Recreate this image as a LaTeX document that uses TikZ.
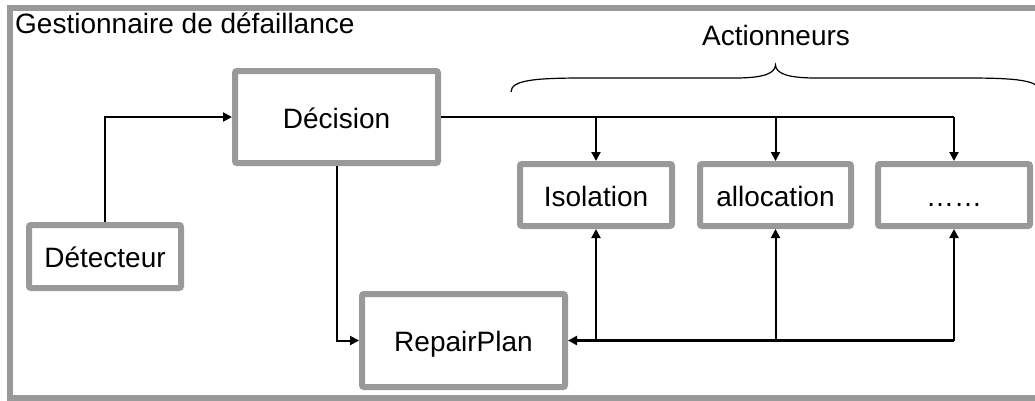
\documentclass[tikz,border=0pt]{standalone}
\usepackage{fontspec}
\setmainfont{Liberation Sans}
\usetikzlibrary{arrows.meta}
\definecolor{framegray}{RGB}{153,153,153}
\tikzset{
  box/.style={draw=framegray, line width=6pt, rounded corners=2pt, fill=white,
    inner sep=0pt, text height=22pt, text depth=0pt, font=\fontsize{28}{32}\selectfont},
  link/.style={draw=black, line width=2pt, -{Triangle[length=9pt,width=9pt]}},
  bus/.style={draw=black, line width=2.6pt},
  label/.style={inner sep=0pt, font=\fontsize{28}{32}\selectfont}
}
\begin{document}
\begin{tikzpicture}[x=1pt,y=-1pt]
  \useasboundingbox (0,0) rectangle (1035,400);
  \clip (0,0) rectangle (1035,400);

  % outer frame of the fault manager
  \draw[framegray, line width=6.5pt] (10,8) rectangle (1060,398.5);
  \node[label, anchor=base west] (title) at (15,33) {Gestionnaire de défaillance};

  % components
  \node[box, minimum width=203pt, minimum height=92pt] (dec) at (336.5,117) {Décision};
  \node[box, minimum width=152pt, minimum height=63pt] (det) at (105,256.5) {Détecteur};
  \node[box, minimum width=203pt, minimum height=93pt] (rp) at (463.5,340.5) {RepairPlan};
  \node[box, minimum width=152pt, minimum height=62pt] (iso) at (596,195) {Isolation};
  \node[box, minimum width=151pt, minimum height=62pt] (alloc) at (775.5,195) {allocation};
  \node[box, minimum width=152pt, minimum height=62pt] (more) at (954,195) {……};

  % actuator group brace and its label
  \draw[line width=1.2pt] (511,92) .. controls (511,80) and (535,78) .. (585,78)
    -- (735,78) .. controls (765,78) and (775,73) .. (775.5,65)
    .. controls (776,73) and (786,78) .. (816,78)
    -- (966,78) .. controls (1016,78) and (1040,80) .. (1040,92);
  \node[label, anchor=base] (act) at (776,45) {Actionneurs};

  % detector to decision
  \draw[link] (det.north) |- (dec.west);
  % decision to repair plan
  \draw[link] (dec.south) |- (rp.west);
  % decision to each actuator
  \draw[bus] (dec.east) -- (dec.east -| more.north);
  \draw[link] (dec.east -| iso.north) -- (iso.north);
  \draw[link] (dec.east -| alloc.north) -- (alloc.north);
  \draw[link] (dec.east -| more.north) -- (more.north);

  % feedback bus from actuators to repair plan
  \coordinate (jiso) at (rp.east -| iso.south);
  \coordinate (jalloc) at (rp.east -| alloc.south);
  \coordinate (jmore) at (rp.east -| more.south);
  \draw[bus] (jmore) -- (jiso);
  \draw[link, line width=2.6pt] (jiso) -- (rp.east);
  \draw[link] (jiso) -- (iso.south);
  \draw[link] (jalloc) -- (alloc.south);
  \draw[link] (jmore) -- (more.south);
\end{tikzpicture}
\end{document}
